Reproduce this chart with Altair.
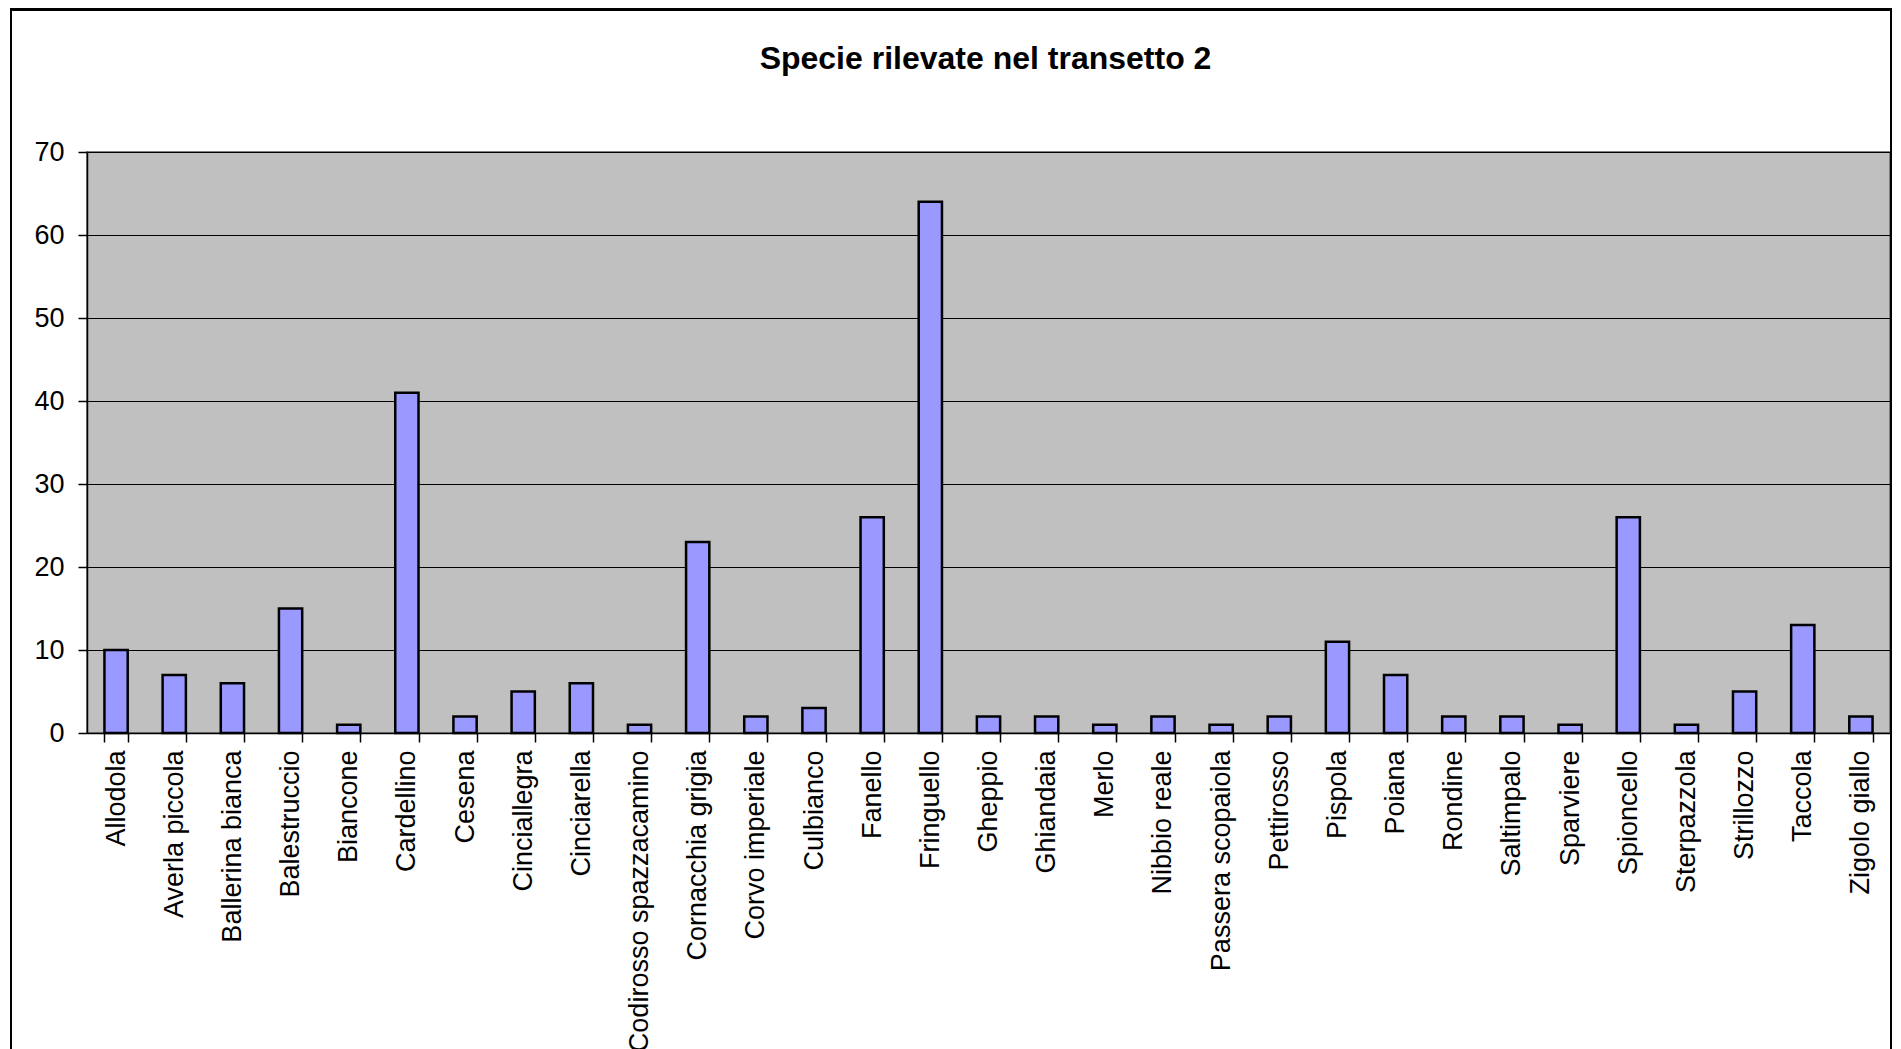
import altair as alt
import pandas as pd

species = [
    "Allodola", "Averla piccola", "Ballerina bianca", "Balestruccio", "Biancone",
    "Cardellino", "Cesena", "Cinciallegra", "Cinciarella", "Codirosso spazzacamino",
    "Cornacchia grigia", "Corvo imperiale", "Culbianco", "Fanello", "Fringuello",
    "Gheppio", "Ghiandaia", "Merlo", "Nibbio reale", "Passera scopaiola",
    "Pettirosso", "Pispola", "Poiana", "Rondine", "Saltimpalo",
    "Sparviere", "Spioncello", "Sterpazzola", "Strillozzo", "Taccola",
    "Zigolo giallo",
]
counts = [10, 7, 6, 15, 1, 41, 2, 5, 6, 1, 23, 2, 3, 26, 64, 2, 2, 1, 2, 1,
          2, 11, 7, 2, 2, 1, 26, 1, 5, 13, 2]
y_ticks = [0, 10, 20, 30, 40, 50, 60, 70]

df = pd.DataFrame({"Specie": species, "Numero": counts})

FONT = "Liberation Sans"

bars = alt.Chart(df).mark_bar(
    fill="#9999FF", stroke="black", strokeWidth=2.5
).encode(
    x=alt.X(
        "Specie:N", sort=species,
        scale=alt.Scale(paddingInner=0.6, paddingOuter=0.3),
        axis=alt.Axis(
            title=None, labelAngle=-90, labelFontSize=27, labelFont=FONT,
            labelColor="black", tickBand="extent", tickSize=9, tickColor="black",
            tickWidth=1.5, domainColor="black", domainWidth=1.5, labelPadding=8,
            grid=False, labelLimit=400,
        ),
    ),
    y=alt.Y(
        "Numero:Q",
        scale=alt.Scale(domain=[0, 70], nice=False),
        axis=alt.Axis(
            title=None, values=y_ticks, labelFontSize=27, labelFont=FONT,
            labelColor="black", tickSize=9, tickColor="black", tickWidth=1.5,
            domainColor="black", domainWidth=1.5, labelPadding=14,
            grid=True, gridColor="black", gridWidth=1.2,
        ),
    ),
)

frame = alt.Chart(df).mark_rect(
    fill=None, stroke="black", strokeWidth=1.5
).encode(
    x=alt.value(-76), x2=alt.value(1804),
    y=alt.value(-142.5), y2=alt.value(1200),
)

chart = alt.layer(frame, bars).properties(
    width=1803, height=581,
    title=alt.TitleParams(
        "Specie rilevate nel transetto 2", font=FONT, fontSize=32,
        fontWeight="bold", color="black", anchor="middle", frame="group",
        baseline="alphabetic", dx=-3, offset=-92,
    ),
    autosize=alt.AutoSizeParams(type="none"),
    padding={"left": 79, "top": 144, "right": 3, "bottom": 316},
).configure_view(
    fill="#C0C0C0", stroke="#808080", strokeWidth=2
)

chart.save("out.html", embed_options={"renderer": "svg", "actions": False})
